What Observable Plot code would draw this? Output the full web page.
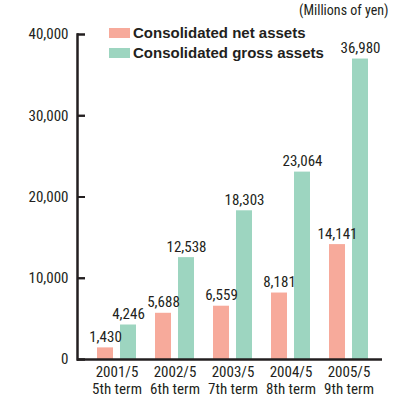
<!DOCTYPE html>
<html>
<head>
<meta charset="utf-8">
<script src="https://cdn.jsdelivr.net/npm/d3@7"></script>
<script src="https://cdn.jsdelivr.net/npm/@observablehq/plot@0.6"></script>
<style>
  body { margin: 0; background: #fff; }
  #wrap { position: relative; width: 413px; height: 399px; font-family: "Roboto Condensed", sans-serif; color: #231f20; }
  #unit { position: absolute; left: 299px; top: 2px; font-size: 14px; white-space: nowrap; }
  .item { position: absolute; left: 109px; display: flex; align-items: center; white-space: nowrap; font-family: "Liberation Sans", Arial, sans-serif; font-weight: bold; font-size: 15px; }
  .sw { width: 21px; height: 10px; margin-right: 3px; }
</style>
</head>
<body>
<div id="wrap">
  <div id="chart"></div>
  <div id="unit">(Millions of yen)</div>
  <div id="legend"></div>
</div>
<script>
const periods = ["2001/5", "2002/5", "2003/5", "2004/5", "2005/5"];
const terms = ["5th term", "6th term", "7th term", "8th term", "9th term"];
const netAssets = [1430, 5688, 6559, 8181, 14141];
const grossAssets = [4246, 12538, 18303, 23064, 36980];
const seriesNames = ["Consolidated net assets", "Consolidated gross assets"];
const seriesColors = ["#f7aa9b", "#9dd5c0"];
const yTicks = [0, 10000, 20000, 30000, 40000];

const rows = [];
periods.forEach((p, i) => {
  rows.push({period: p, series: seriesNames[0], value: netAssets[i]});
  rows.push({period: p, series: seriesNames[1], value: grossAssets[i]});
});
const net = rows.filter(d => d.series === seriesNames[0]);
const gross = rows.filter(d => d.series === seriesNames[1]);
const fmt = d3.format(",");
const termOf = Object.fromEntries(periods.map((p, i) => [p, terms[i]]));
const ink = "#231f20";
const font = "Roboto Condensed, sans-serif";
const tickRows = yTicks.map(v => ({period: periods[0], value: v}));

const chart = Plot.plot({
  width: 413,
  height: 399,
  marginLeft: 77,
  marginRight: 31,
  marginTop: 34,
  marginBottom: 40,
  style: {fontFamily: font, fontSize: "15px", color: ink, background: "transparent"},
  x: {domain: periods, range: [97, 368], paddingInner: 0.33, paddingOuter: 0},
  y: {domain: [0, 40000]},
  color: {domain: seriesNames, range: seriesColors},
  marks: [
    Plot.barY(net, {x: "period", y: "value", fill: "series", insetRight: 23}),
    Plot.barY(gross, {x: "period", y: "value", fill: "series", insetLeft: 23}),
    Plot.text(net, {x: "period", y: "value", text: d => fmt(d.value), dx: -11.5, dy: -6, lineAnchor: "bottom", fill: ink, fontSize: 15}),
    Plot.text(gross, {x: "period", y: "value", text: d => fmt(d.value), dx: 11.5, dy: -6, lineAnchor: "bottom", fill: ink, fontSize: 15}),
    Plot.axisY({ticks: yTicks, tickSize: 0, tickPadding: 9, tickFormat: fmt, label: null, fontSize: 15}),
    Plot.axisY({ticks: yTicks, tickSize: 8, dx: 8, tickFormat: () => "", label: null, stroke: ink, strokeWidth: 2}),
    Plot.tickY(tickRows, {x: "period", y: "value", dx: -20, insetRight: 31, stroke: ink, strokeWidth: 2}),
    Plot.axisX({tickSize: 0, tickPadding: 6, label: null, tickFormat: p => p + "\n" + termOf[p], fontSize: 15, lineHeight: 1.12}),
    Plot.ruleY([0], {stroke: ink, strokeWidth: 2.5}),
    Plot.frame({anchor: "left", stroke: ink, strokeWidth: 2.5})
  ]
});
document.getElementById("chart").appendChild(chart);

const legend = document.getElementById("legend");
seriesNames.forEach((name, i) => {
  const item = document.createElement("div");
  item.className = "item";
  item.style.top = (24 + i * 20) + "px";
  const sw = document.createElement("span");
  sw.className = "sw";
  sw.style.background = seriesColors[i];
  const label = document.createElement("span");
  label.textContent = name;
  item.appendChild(sw);
  item.appendChild(label);
  legend.appendChild(item);
});
</script>
</body>
</html>
